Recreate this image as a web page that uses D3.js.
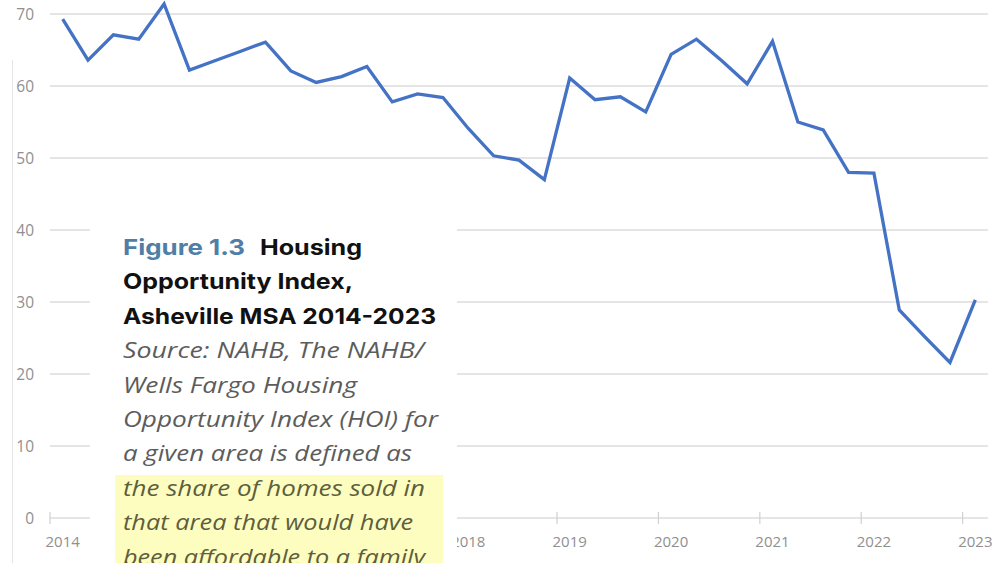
<!DOCTYPE html>
<html>
<head>
<meta charset="utf-8">
<script src="https://cdn.jsdelivr.net/npm/d3@7"></script>
<style>
  html, body { margin: 0; padding: 0; background: #ffffff; }
  svg { display: block; }
</style>
</head>
<body>
<svg id="chart" width="992" height="563"></svg>
<script>
// Housing Opportunity Index, Asheville MSA, quarterly 2014 Q1 – 2023 Q1
const years = ["2014", "2015", "2016", "2017", "2018", "2019", "2020", "2021", "2022", "2023"];
const quarterNames = ["Q1", "Q2", "Q3", "Q4"];
const periods = years.flatMap(yr => quarterNames.map(q => `${yr} ${q}`)).slice(0, 37);

const hoi = [
  69.3, 63.6, 67.1, 66.5, 71.4, 62.2, 63.5, 64.8,   // 2014–2015
  66.1, 62.1, 60.5, 61.3, 62.7, 57.8, 58.9, 58.4,   // 2016–2017
  54.1, 50.3, 49.7, 47.0, 61.1, 58.1, 58.5, 56.4,   // 2018–2019
  64.4, 66.5, 63.5, 60.3, 66.2, 55.0, 53.9, 48.0,   // 2020–2021
  47.9, 28.9, 25.2, 21.6, 30.3                      // 2022–2023 Q1
];

const yTicks = [0, 10, 20, 30, 40, 50, 60, 70];

// Caption text, one entry per printed line
const captionHeadLabel = "Figure 1.3";
const captionHeadLines = ["Housing", "Opportunity Index,", "Asheville MSA 2014-2023"];
const captionBodyLines = [
  "Source: NAHB, The NAHB/",
  "Wells Fargo Housing",
  "Opportunity Index (HOI) for",
  "a given area is defined as",
  "the share of homes sold in",
  "that area that would have",
  "been affordable to a family"
];
const highlightFrom = 4; // body lines from here on are highlighted

// Layout
const plotLeft = 50, plotRight = 988, plotTop = 14, plotBottom = 518;
const panel = { x: 90, y: 212, w: 367, h: 351 };
const headWidths = [102, 230, 313];
const labelWidth = 122;
const bodyWidths = [301, 234, 315, 289, 302, 290, 302];

const svg = d3.select("#chart");

const x = d3.scaleBand().domain(periods).range([plotLeft, plotRight]).paddingInner(0).paddingOuter(0);
const y = d3.scaleLinear().domain([0, 70]).range([plotBottom, plotTop]);
const cx = p => x(p) + x.bandwidth() / 2;

// page margin rule at far left
svg.append("line")
  .attr("x1", 12.5).attr("x2", 12.5).attr("y1", 60).attr("y2", 563)
  .attr("stroke", "#e4e4e4").attr("stroke-width", 1);

// horizontal gridlines
svg.append("g").selectAll("line")
  .data(yTicks)
  .join("line")
  .attr("x1", plotLeft).attr("x2", plotRight)
  .attr("y1", d => y(d)).attr("y2", d => y(d))
  .attr("stroke", "#dcdcdc").attr("stroke-width", 1.3);

// y tick labels
svg.append("g").selectAll("text")
  .data(yTicks)
  .join("text")
  .attr("x", 34)
  .attr("y", d => y(d))
  .attr("dy", "0.36em")
  .attr("text-anchor", "end")
  .attr("font-family", "'Open Sans', sans-serif")
  .attr("font-size", 15.5)
  .attr("fill", "#8f8f8f")
  .text(d => d);

// x axis: ticks on year boundaries, labels centred on each Q1
const q1 = periods.filter(p => p.endsWith("Q1"));
// year labels that sit entirely behind the caption panel are left out
const visibleQ1 = q1.filter(p => !(cx(p) - 12 > panel.x && cx(p) + 12 < panel.x + panel.w));
const xAxis = svg.append("g");
xAxis.selectAll("line.tick")
  .data(q1)
  .join("line")
  .attr("class", "tick")
  .attr("x1", d => x(d)).attr("x2", d => x(d))
  .attr("y1", plotBottom - 6).attr("y2", plotBottom + 6)
  .attr("stroke", "#d0d0d0").attr("stroke-width", 1.2);
xAxis.selectAll("text")
  .data(visibleQ1)
  .join("text")
  .attr("x", d => cx(d))
  .attr("y", 547)
  .attr("text-anchor", "middle")
  .attr("font-family", "'Open Sans', sans-serif")
  .attr("font-size", 15)
  .attr("fill", "#8f8f8f")
  .text(d => d.slice(0, 4));

// HOI line
const line = d3.line()
  .x((d, i) => cx(periods[i]))
  .y(d => y(d));

svg.append("path")
  .datum(hoi)
  .attr("d", line)
  .attr("fill", "none")
  .attr("stroke", "#4472c4")
  .attr("stroke-width", 3.3)
  .attr("stroke-linejoin", "miter")
  .attr("stroke-linecap", "butt");

// Caption panel
const cap = svg.append("g");
cap.append("rect")
  .attr("x", panel.x).attr("y", panel.y).attr("width", panel.w).attr("height", panel.h)
  .attr("fill", "#ffffff");

const textX = 123, firstBase = 255, lineStep = 34.4;

cap.append("rect")
  .attr("x", 115).attr("y", 475).attr("width", 328).attr("height", 88)
  .attr("fill", "#fdfdbf");

cap.append("text")
  .attr("x", textX).attr("y", firstBase)
  .attr("font-family", "Inter, 'Liberation Sans', sans-serif")
  .attr("font-weight", 700)
  .attr("font-size", 22)
  .attr("fill", "#4f7ea6")
  .attr("textLength", labelWidth)
  .attr("lengthAdjust", "spacingAndGlyphs")
  .text(captionHeadLabel);

cap.selectAll("text.head")
  .data(captionHeadLines)
  .join("text")
  .attr("class", "head")
  .attr("x", (d, i) => i === 0 ? textX + labelWidth + 15 : textX)
  .attr("y", (d, i) => firstBase + i * lineStep)
  .attr("font-family", "Inter, 'Liberation Sans', sans-serif")
  .attr("font-weight", 700)
  .attr("font-size", 22)
  .attr("fill", "#111111")
  .attr("textLength", (d, i) => headWidths[i])
  .attr("lengthAdjust", "spacingAndGlyphs")
  .text(d => d);

cap.selectAll("text.body")
  .data(captionBodyLines)
  .join("text")
  .attr("class", "body")
  .attr("x", textX)
  .attr("y", (d, i) => firstBase + (i + 3) * lineStep)
  .attr("font-family", "'Open Sans', sans-serif")
  .attr("font-style", "italic")
  .attr("font-size", 22)
  .attr("fill", (d, i) => i >= highlightFrom ? "#5e5e3e" : "#5c5c5c")
  .attr("textLength", (d, i) => bodyWidths[i])
  .attr("lengthAdjust", "spacingAndGlyphs")
  .text(d => d);
</script>
</body>
</html>
